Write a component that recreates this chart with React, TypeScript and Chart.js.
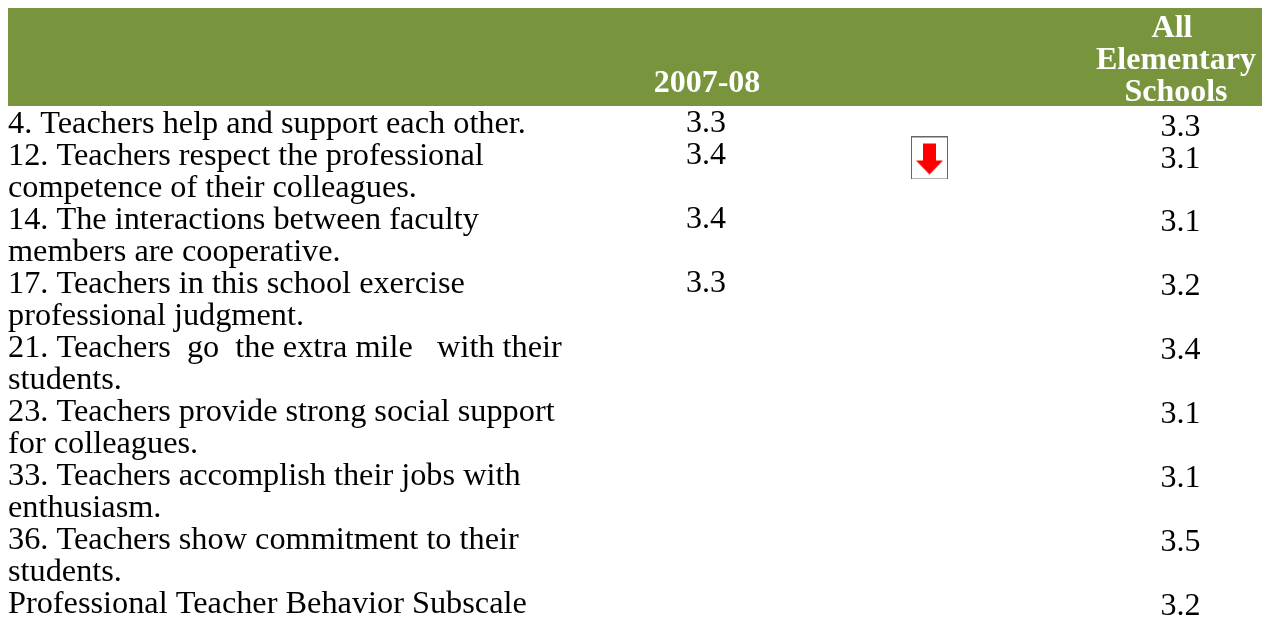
import React, { useEffect, useRef } from "react";
import { Chart, registerables } from "chart.js";

Chart.register(...registerables);

const rowLabels: string[][] = [
  ["4. Teachers help and support each other."],
  ["12. Teachers respect the professional", "competence of their colleagues."],
  ["14. The interactions between faculty", "members are cooperative."],
  ["17. Teachers in this school exercise", "professional judgment."],
  ["21. Teachers  go  the extra mile   with their", "students."],
  ["23. Teachers provide strong social support", "for colleagues."],
  ["33. Teachers accomplish their jobs with", "enthusiasm."],
  ["36. Teachers show commitment to their", "students."],
  ["Professional Teacher Behavior Subscale"],
];
const values0708 = ["3.3", "3.4", "3.4", "3.3"];
const lines0708 = [-0.03, 0.97, 2.97, 4.97];
const valuesAll = ["3.3", "3.1", "3.1", "3.2", "3.4", "3.1", "3.1", "3.5", "3.2"];
const linesAll = [0.09, 1.08, 3.07, 5.06, 7.06, 9.06, 11.06, 13.06, 15.06];
const arrowLines = [0.78];
const headers: { text: string[]; column: number; lastBaseline: number }[] = [
  { text: ["2007-08"], column: 707, lastBaseline: 92 },
  { text: ["All ", "Elementary", "Schools"], column: 1176, lastBaseline: 101 },
];

const GREEN = "#78943c";
const LINE_PX = 32;
const FIRST_BASELINE = 133;
const H = 617;
const W = 1266;

function makeArrow() {
  const c = document.createElement("canvas");
  c.width = 37;
  c.height = 43;
  const g = c.getContext("2d")!;
  g.fillStyle = "#fff";
  g.fillRect(0, 0, 37, 43);
  g.strokeStyle = "#666";
  g.lineWidth = 1;
  g.strokeRect(0.5, 0.5, 36, 42);
  g.fillStyle = "#ff0000";
  g.beginPath();
  g.moveTo(12, 7);
  g.lineTo(25, 7);
  g.lineTo(25, 24);
  g.lineTo(32, 24);
  g.lineTo(18.5, 38);
  g.lineTo(5, 24);
  g.lineTo(12, 24);
  g.closePath();
  g.fill();
  return c;
}

const tablePlugin = {
  id: "table",
  beforeDatasetsDraw(chart: any) {
    const { ctx, scales } = chart;
    const x = scales.x;
    const y = scales.y;
    ctx.save();
    ctx.fillStyle = GREEN;
    ctx.fillRect(8, 8, W - 12, 98);
    ctx.fillStyle = "#000";
    ctx.textBaseline = "alphabetic";
    ctx.textAlign = "left";
    ctx.font = '32.3px "Liberation Serif"';
    let line = 0;
    rowLabels.forEach((row) => {
      row.forEach((t) => {
        ctx.fillText(t, x.getPixelForValue(8), y.getPixelForValue(line));
        line++;
      });
    });
    ctx.font = 'bold 32px "Liberation Serif"';
    ctx.textAlign = "center";
    ctx.fillStyle = "#fff";
    headers.forEach((h) => {
      const n = h.text.length;
      h.text.forEach((t, i) => {
        ctx.fillText(t, x.getPixelForValue(h.column), h.lastBaseline - (n - 1 - i) * 32);
      });
    });
    ctx.restore();
  },
  afterDatasetsDraw(chart: any) {
    const { ctx } = chart;
    ctx.save();
    ctx.fillStyle = "#000";
    ctx.font = '32px "Liberation Serif"';
    ctx.textAlign = "center";
    ctx.textBaseline = "alphabetic";
    [values0708, valuesAll].forEach((vals, d) => {
      const meta = chart.getDatasetMeta(d);
      vals.forEach((v, i) => {
        const p = meta.data[i];
        ctx.fillText(v, p.x, p.y);
      });
    });
    ctx.restore();
  },
};

export default function App() {
  const ref = useRef<HTMLCanvasElement | null>(null);
  useEffect(() => {
    document.body.style.margin = "0";
    const chart = new Chart(ref.current!, {
      type: "scatter",
      data: {
        datasets: [
          {
            label: "2007-08",
            data: values0708.map((v, i) => ({ x: 706, y: lines0708[i], v })) as any,
            pointRadius: 0,
          },
          {
            label: "All Elementary Schools",
            data: valuesAll.map((v, i) => ({ x: 1180.5, y: linesAll[i], v })) as any,
            pointRadius: 0,
          },
          {
            label: "Change",
            data: arrowLines.map((y) => ({ x: 929.5, y })) as any,
            pointStyle: makeArrow() as any,
          },
        ],
      },
      options: {
        animation: false,
        responsive: false,
        layout: { padding: 0, autoPadding: false },
        plugins: { legend: { display: false }, tooltip: { enabled: false }, title: { display: false } },
        scales: {
          x: { type: "linear", display: false, min: 0, max: W },
          y: {
            type: "linear",
            display: false,
            reverse: true,
            min: -FIRST_BASELINE / LINE_PX,
            max: (H - FIRST_BASELINE) / LINE_PX,
          },
        },
      },
      plugins: [tablePlugin],
    });
    return () => chart.destroy();
  }, []);
  return (
    <canvas
      ref={ref}
      width={W}
      height={H}
      style={{ display: "block", width: W, height: H }}
    />
  );
}
